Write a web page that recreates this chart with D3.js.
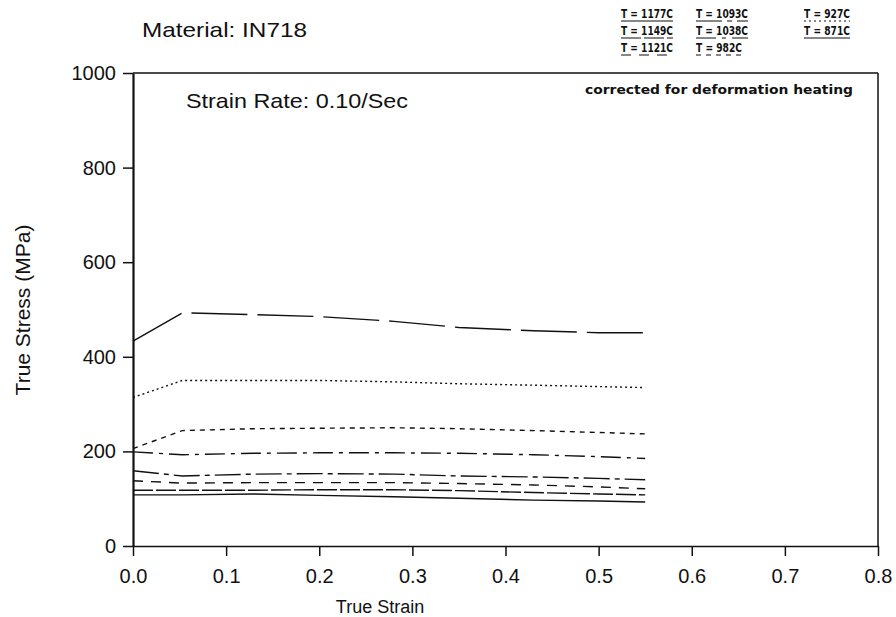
<!DOCTYPE html>
<html><head><meta charset="utf-8">
<script src="https://cdn.jsdelivr.net/npm/d3@7"></script>
<style>body{margin:0;background:#fff}svg text{font-family:"Liberation Sans",Arial,sans-serif;fill:#111}</style>
</head><body><svg id="c" width="896" height="617"></svg>
<script>
const strain = [0, 0.053, 0.13, 0.2, 0.28, 0.35, 0.43, 0.5, 0.55];
const temps = ["1177C","1149C","1121C","1093C","1038C","982C","927C","871C"];
const s871  = [433, 493, 489, 485, 475, 462, 455, 451, 451];
const s927  = [314, 350, 350, 350, 347, 343, 340, 337, 335];
const s982  = [206, 244, 248, 249, 250, 248, 244, 240, 237];
const s1038 = [199, 193, 196, 197, 197, 196, 193, 189, 185];
const s1093 = [159, 148, 152, 153, 152, 148, 146, 143, 140];
const s1121 = [138, 133, 134, 134, 134, 132, 129, 125, 121];
const s1149 = [118, 118, 118, 119, 119, 117, 113, 110, 108];
const s1177 = [108, 108, 110, 107, 104, 101, 97, 95, 93];
const xTicks = [0,0.1,0.2,0.3,0.4,0.5,0.6,0.7,0.8];
const yTicks = [0,200,400,600,800,1000];

const series = [
  {t:temps[0], v:s1177, dash:null},
  {t:temps[1], v:s1149, dash:"20,3"},
  {t:temps[2], v:s1121, dash:"10,8"},
  {t:temps[3], v:s1093, dash:"26,5,5,5"},
  {t:temps[4], v:s1038, dash:"20,6,4,6"},
  {t:temps[5], v:s982,  dash:"5,5"},
  {t:temps[6], v:s927,  dash:"2,3"},
  {t:temps[7], v:s871,  dash:"56,10"}
];

const svg = d3.select("#c");
const x = d3.scaleLinear().domain([0,0.8]).range([133,878]);
const y = d3.scaleLinear().domain([0,1000]).range([546,73]);

svg.append("line").attr("x1",133).attr("x2",878).attr("y1",73).attr("y2",73).attr("stroke","#111").attr("stroke-width",1.5);
svg.append("line").attr("x1",878).attr("x2",878).attr("y1",73).attr("y2",546).attr("stroke","#111").attr("stroke-width",1.5);

const xa = svg.append("g").attr("transform","translate(0,546)")
  .call(d3.axisBottom(x).tickValues(xTicks).tickFormat(d3.format(".1f")).tickSize(10).tickSizeOuter(0));
xa.select(".domain").attr("stroke","#111").attr("stroke-width",1.5);
xa.selectAll(".tick line").attr("stroke","#111").attr("stroke-width",1.5);
xa.selectAll("text").attr("font-size",20).attr("dy","1.2em").attr("fill","#111");

const ya = svg.append("g").attr("transform","translate(133,0)")
  .call(d3.axisLeft(y).tickValues(yTicks).tickFormat(d3.format("d")).tickSize(10).tickSizeOuter(0));
ya.select(".domain").attr("stroke","#111").attr("stroke-width",2.2);
ya.selectAll(".tick line").attr("stroke","#111").attr("stroke-width",1.5);
ya.selectAll("text").attr("font-size",20).attr("x",-17).attr("fill","#111");

const line = d3.line().x((d,i)=>x(strain[i])).y(d=>y(d));
series.forEach(s=>{
  svg.append("path").datum(s.v).attr("d",line).attr("fill","none")
    .attr("stroke","#111").attr("stroke-width",1.4)
    .attr("stroke-dasharray",s.dash);
});

svg.append("text").attr("x",142).attr("y",37).attr("font-size",21).attr("textLength",165).attr("lengthAdjust","spacingAndGlyphs").text("Material: IN718");
svg.append("text").attr("x",186).attr("y",108).attr("font-size",21).attr("textLength",222).attr("lengthAdjust","spacingAndGlyphs").text("Strain Rate: 0.10/Sec");
svg.append("text").attr("x",585).attr("y",94).attr("font-size",12).attr("font-weight","bold")
  .style("font-family","'DejaVu Sans',sans-serif").attr("textLength",268).attr("lengthAdjust","spacingAndGlyphs").text("corrected for deformation heating");
svg.append("text").attr("x",380).attr("y",613).attr("font-size",18).attr("text-anchor","middle").text("True Strain");
svg.append("text").attr("transform","translate(30,310) rotate(-90)").attr("font-size",21).attr("text-anchor","middle").text("True Stress (MPa)");

const legPos = {"1177C":[621,0],"1149C":[621,1],"1121C":[621,2],"1093C":[696,0],"1038C":[696,1],"982C":[696,2],"927C":[804,0],"871C":[804,1]};
series.forEach(s=>{
  const [lx,row] = legPos[s.t];
  const ly = 18 + row*17;
  const w = s.t.length === 5 ? 52 : 46;
  svg.append("text").attr("x",lx).attr("y",ly).attr("font-size",11.5).attr("font-weight","bold")
    .style("font-family","'DejaVu Sans',sans-serif")
    .attr("textLength",w).attr("lengthAdjust","spacingAndGlyphs").text("T = " + s.t);
  svg.append("line").attr("x1",lx).attr("x2",lx+w).attr("y1",ly+3).attr("y2",ly+3)
    .attr("stroke","#111").attr("stroke-width",1.2).attr("stroke-dasharray",s.dash);
});
</script></body></html>
